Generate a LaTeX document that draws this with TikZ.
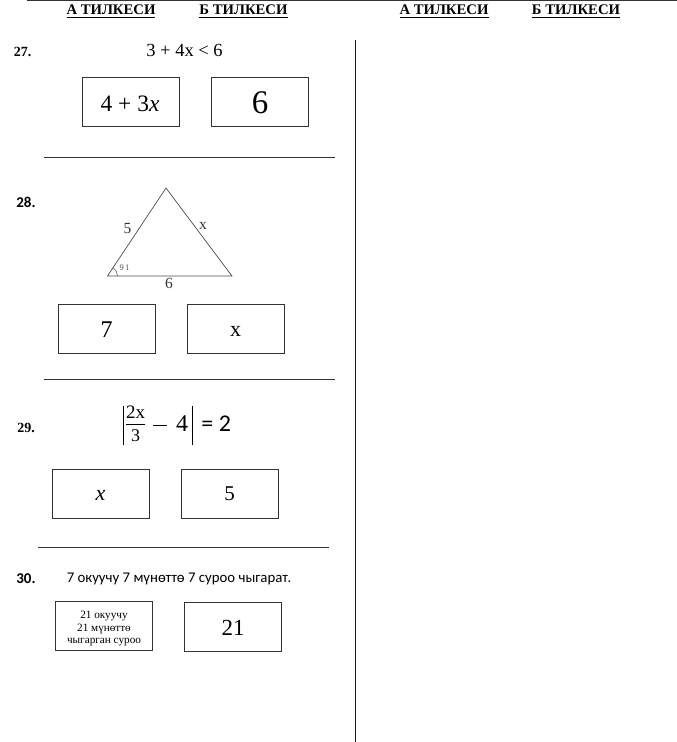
\documentclass[tikz,border=0pt]{standalone}
\usepackage{fontspec,amsmath}
\setmainfont{Liberation Serif}
\newfontfamily\calfont{Carlito}
\newcommand{\fsz}[1]{\fontsize{#1}{#1}\selectfont}
\tikzset{
    answerbox/.style={draw=black!80,line width=0.9pt,minimum width=97pt,minimum height=49pt,inner sep=0pt,align=center},
    headlabel/.style={font=\fsz{14.7}\bfseries,inner sep=0pt},
    numlabel/.style={font=\fsz{14}\bfseries,inner sep=0pt},
    numlabelb/.style={font=\fsz{15}\calfont\bfseries,inner sep=0pt},
    sepline/.style={black!80,line width=1pt}
}
\begin{document}
\begin{tikzpicture}[x=1pt,y=-1pt]
                \useasboundingbox (0,0) rectangle (677,742);
                \draw[sepline] (27,0.5)--(677,0.5);
                \draw[black!90,line width=1.2pt] (355.5,40)--(355.5,742);
                \node[headlabel] (headAl) at (111,11.5) {\underline{А ТИЛКЕСИ}};
                \node[headlabel] (headBl) at (243.5,11.5) {\underline{Б ТИЛКЕСИ}};
                \node[headlabel] (headAr) at (444,11.5) {\underline{А ТИЛКЕСИ}};
                \node[headlabel] (headBr) at (576,11.5) {\underline{Б ТИЛКЕСИ}};
                % 27
                \node[numlabel] (numA) at (22.5,51.5) {27.};
                \node[inner sep=0pt,font=\fsz{18.5}] (eqA) at (184.5,50) {3 + 4x < 6};
                \node[answerbox] (boxAl) at (130.5,101.5) {};
                \node[inner sep=0pt,font=\fsz{23.5}] (valAl) at (130,104) {4 + 3\textit{x}};
                \node[answerbox] (boxAr) at (259.5,101.5) {};
                \node[inner sep=0pt,font=\fsz{33}] (valAr) at (260,103) {6};
                \draw[sepline] (44,157)--(335,157);
                % 28
                \node[numlabelb] (numB) at (26,202) {28.};
                \draw[black!70,line width=0.7pt] (166,188)--(232,276)--(107.5,276)--cycle;
                \draw[black!70,line width=0.5pt] (117.5,276) arc (0:-56:10);
                \node[inner sep=0pt,font=\fsz{15.5},black!80] (sideA) at (127.5,228) {5};
                \node[inner sep=0pt,font=\fsz{15.5},black!80] (sideB) at (203,226) {x};
                \node[inner sep=0pt,font=\fsz{15.5},black!80] (sideC) at (169,283) {6};
                \node[inner sep=0pt,font=\fsz{8.5},black!70] (angA) at (124.5,267.5) {9\,1};
                \node[answerbox] (boxBl) at (106.5,328.5) {};
                \node[inner sep=0pt,font=\fsz{24}] (valBl) at (106.5,329.5) {7};
                \node[answerbox] (boxBr) at (235.5,328.5) {};
                \node[inner sep=0pt,font=\fsz{22}] (valBr) at (235.5,331) {x};
                \draw[sepline] (44,379)--(335,379);
                % 29
                \node[numlabel] (numC) at (26,427.5) {29.};
                \node[inner sep=0pt,font=\fsz{24}] (eqC) at (177,425) {\rule[-14pt]{1.2pt}{39pt}\hspace{2pt}$\begin{array}{@{}c@{}}\text{\fsz{19}2x}\\[-1pt]\hline\text{\fsz{18}3}\end{array}$\hspace{8pt}\rule[5.5pt]{14pt}{0.8pt}\hspace{9pt}4\hspace{4pt}\rule[-14pt]{1.2pt}{39pt}\hspace{8pt}{\fsz{24}\calfont = 2}};
                \node[answerbox] (boxCl) at (100.5,493.5) {};
                \node[inner sep=0pt,font=\fsz{22}\itshape] (valCl) at (100.5,495) {x};
                \node[answerbox] (boxCr) at (229.5,493.5) {};
                \node[inner sep=0pt,font=\fsz{21}] (valCr) at (229.5,494) {5};
                \draw[sepline] (38,547)--(329,547);
                % 30
                \node[numlabelb] (numD) at (26,578.5) {30.};
                \node[inner sep=0pt,font=\fsz{14.8}\calfont] (eqD) at (179,579) {7 окуучу 7 мүнөттө 7 суроо чыгарат.};
                \node[answerbox] (boxDl) at (104,626) {};
                \node[inner sep=0pt,font=\fsz{11.2},align=center] (valDl) at (104,628.5) {21 окуучу\\[1.4pt]21 мүнөттө\\[1.4pt]чыгарган суроо};
                \node[answerbox] (boxDr) at (233,626.5) {};
                \node[inner sep=0pt,font=\fsz{23}] (valDr) at (233,628) {21};
            \end{tikzpicture}
\end{document}
